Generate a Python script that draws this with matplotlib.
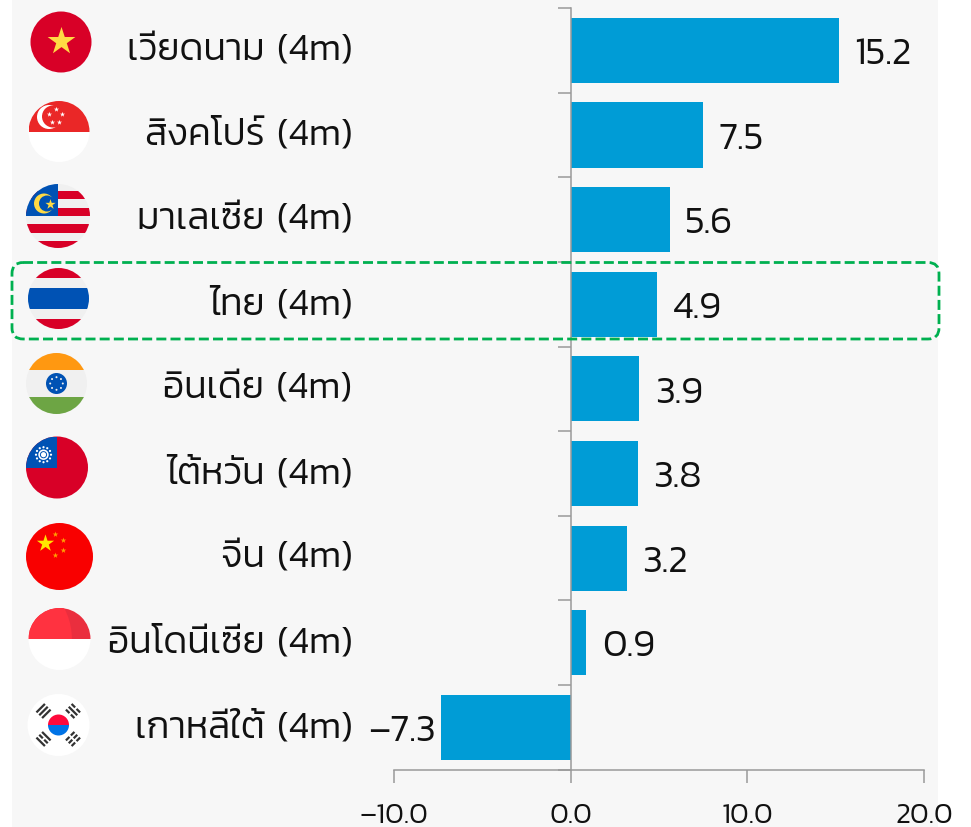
import matplotlib

matplotlib.use("Agg")
import matplotlib.pyplot as plt
import numpy as np
from matplotlib.patches import Circle, FancyBboxPatch, Rectangle, Wedge
from matplotlib.transforms import ScaledTranslation

WIDTH, HEIGHT = 971, 828
FONT = ["Kanit", "Noto Sans Thai", "DejaVu Sans"]
BAR_BLUE = "#009CD6"
AXIS_GREY = "#9A9A9A"
PANEL = "#F7F7F7"
GREEN = "#00B050"
RED = "#D80027"
FLAG_BLUE = "#0052B4"
WHITE = "#F0F0F0"
YELLOW = "#FFDA44"

countries = ["เวียดนาม", "สิงคโปร์", "มาเลเซีย", "ไทย", "อินเดีย", "ไต้หวัน", "จีน", "อินโดนีเซีย", "เกาหลีใต้"]
period = "(4m)"
values = [15.2, 7.5, 5.6, 4.9, 3.9, 3.8, 3.2, 0.9, -7.3]
x_ticks = [-10, 0, 10, 20]
x_tick_labels = ["–10.0", "0.0", "10.0", "20.0"]

plt.rcParams["font.family"] = FONT
plt.rcParams["font.weight"] = 300


def axes_px(fig, left, top, right, bottom, **kwargs):
    return fig.add_axes(
        [left / WIDTH, 1 - bottom / HEIGHT, (right - left) / WIDTH, (bottom - top) / HEIGHT],
        **kwargs,
    )


def make_disc(ax, cx, cy, r, base=None):
    disc = Circle((cx, cy), r, facecolor=base or "none", edgecolor="none")
    ax.add_patch(disc)

    def clip(patch):
        ax.add_patch(patch)
        patch.set_clip_path(disc)
        return patch

    def band(x0, y0, x1, y1, color):
        # offsets are in units of the flag radius
        clip(
            Rectangle(
                (cx + x0 * r, cy + y0 * r),
                (x1 - x0) * r,
                (y1 - y0) * r,
                facecolor=color,
                edgecolor="none",
            )
        )

    return clip, band


def star(ax, x, y, size, color):
    ax.scatter([x], [y], s=size, marker="*", color=color, linewidths=0, zorder=5)


def dot(ax, x, y, r, color):
    ax.add_patch(Circle((x, y), r, facecolor=color, edgecolor="none", zorder=5))


def flag_vietnam(ax, cx, cy, r):
    make_disc(ax, cx, cy, r, RED)
    star(ax, cx, cy - 1, 440, YELLOW)


def flag_singapore(ax, cx, cy, r):
    clip, band = make_disc(ax, cx, cy, r, "#FFFFFF")
    band(-1, -1, 1, 0, "#EA2727")
    dot(ax, cx - 10, cy - 14.5, 12, "#FFFFFF")
    dot(ax, cx - 6, cy - 15, 11, "#EA2727")
    for dx, dy in [(-3, -22.5), (-10, -17.5), (3, -17.5), (-7, -9.5), (0, -9.5)]:
        star(ax, cx + dx, cy + dy, 15, "#FFFFFF")


def flag_malaysia(ax, cx, cy, r):
    clip, band = make_disc(ax, cx, cy, r, WHITE)
    for y0, y1 in [(-0.78, -0.52), (-0.26, 0.0), (0.26, 0.52), (0.78, 1.0)]:
        band(-1, y0, 1, y1, RED)
    band(-1, -1, 0, 0.0, FLAG_BLUE)
    dot(ax, cx - 14, cy - 12.5, 10, YELLOW)
    dot(ax, cx - 11, cy - 12.5, 8, FLAG_BLUE)
    star(ax, cx - 8.5, cy - 12.5, 60, YELLOW)


def flag_thailand(ax, cx, cy, r):
    clip, band = make_disc(ax, cx, cy, r, WHITE)
    band(-1, -1, 1, -0.66, RED)
    band(-1, -0.33, 1, 0.33, FLAG_BLUE)
    band(-1, 0.66, 1, 1, RED)


def flag_india(ax, cx, cy, r):
    clip, band = make_disc(ax, cx, cy, r, WHITE)
    band(-1, -1, 1, -0.43, "#FF9811")
    band(-1, 0.43, 1, 1, "#6DA544")
    dot(ax, cx, cy, 10.5, FLAG_BLUE)
    for angle in np.deg2rad(np.arange(0, 360, 45)):
        dot(ax, cx + 6.3 * np.cos(angle), cy + 6.3 * np.sin(angle), 1.0, WHITE)


def flag_taiwan(ax, cx, cy, r):
    clip, band = make_disc(ax, cx, cy, r, RED)
    band(-1, -1, 0, 0, FLAG_BLUE)
    sx, sy = cx - 13.5, cy - 12.8
    for angle in np.deg2rad(np.arange(0, 360, 30)):
        dot(ax, sx + 7.5 * np.cos(angle), sy + 7.5 * np.sin(angle), 1.1, "#FFFFFF")
    dot(ax, sx, sy, 5.2, "#FFFFFF")
    dot(ax, sx, sy, 3.6, FLAG_BLUE)
    dot(ax, sx, sy, 2.6, "#FFFFFF")


def flag_china(ax, cx, cy, r):
    make_disc(ax, cx, cy, r, "#F90000")
    star(ax, cx - 15, cy - 14, 170, "#FFE600")
    for dx, dy in [(-4.5, -22.5), (3, -17), (3, -7), (-4.5, -1.5)]:
        star(ax, cx + dx, cy + dy, 18, "#FFA000")


def flag_indonesia(ax, cx, cy, r):
    clip, band = make_disc(ax, cx, cy, r, "#FFFFFF")
    band(-1, -1, 1, 0, "#EA2E3E")
    clip(Wedge((cx - 1.725 * r, cy), 2.125 * r, 180, 360, facecolor="#FF3240", edgecolor="none"))


def flag_korea(ax, cx, cy, r):
    make_disc(ax, cx, cy, r, "#FFFFFF")
    ax.add_patch(Wedge((cx, cy), 10.5, 180, 360, facecolor="#FF0A3C", edgecolor="none", zorder=4))
    ax.add_patch(Wedge((cx, cy), 10.5, 0, 180, facecolor="#0073E6", edgecolor="none", zorder=4))
    trigrams = [
        (-15, -14, 45, (False, False, False)),
        (14.5, -14, -45, (True, False, True)),
        (-15, 14, -45, (False, True, False)),
        (14.5, 14, 45, (True, True, True)),
    ]
    for sx, sy, ang, broken in trigrams:
        a = np.deg2rad(ang)
        ux, uy = -np.sin(a), np.cos(a)
        for off, is_broken in zip((-4, 0, 4), broken):
            ox, oy = cx + sx + off * np.cos(a), cy + sy + off * np.sin(a)
            spans = [(-6, -1), (1, 6)] if is_broken else [(-6, 6)]
            for s0, s1 in spans:
                ax.plot(
                    [ox + s0 * ux, ox + s1 * ux],
                    [oy + s0 * uy, oy + s1 * uy],
                    color="#333333",
                    linewidth=1.6,
                    solid_capstyle="butt",
                    zorder=5,
                )


fig = plt.figure(figsize=(WIDTH / 100, HEIGHT / 100), dpi=100, facecolor="white")

panel = axes_px(fig, 12, 0, 938, HEIGHT, zorder=0)
panel.set_facecolor(PANEL)
panel.set_xticks([])
panel.set_yticks([])
for spine in panel.spines.values():
    spine.set_visible(False)

ax = axes_px(fig, 393.7, 9, 924.2, 770.7, zorder=1)
ax.patch.set_visible(False)
y_pos = np.arange(len(values))
ax.barh(y_pos, values, height=0.77, color=BAR_BLUE)
ax.set_xlim(-10, 20)
ax.set_ylim(len(values) - 0.5, -0.5)

ax.spines["top"].set_visible(False)
ax.spines["right"].set_visible(False)
ax.spines["left"].set_position(("data", 0))
ax.spines["left"].set_color(AXIS_GREY)
ax.spines["bottom"].set_color(AXIS_GREY)
ax.spines["left"].set_linewidth(1.1)
ax.spines["bottom"].set_linewidth(1.1)

ax.set_xticks(x_ticks)
ax.set_xticklabels(x_tick_labels, fontsize=21)
ax.tick_params(axis="x", length=9, width=1.1, color=AXIS_GREY, pad=14, labelcolor="#111111")
ax.set_yticks(y_pos)
ax.set_yticklabels([f"{c} \u200a{period}" for c in countries], fontsize=27)
ax.tick_params(axis="y", which="major", length=0, pad=157, labelcolor="#111111")
ax.set_yticks(np.arange(len(values) + 1) - 0.5, minor=True)
ax.tick_params(axis="y", which="minor", length=9.5, width=1.1, color=AXIS_GREY)

# labels sit a little above the bar centres
lift = ScaledTranslation(0, 3 / 72, fig.dpi_scale_trans)
for tick_label in ax.get_yticklabels():
    tick_label.set_transform(tick_label.get_transform() + lift)

for y, value in zip(y_pos, values):
    label = f"{value:.1f}".replace("-", "–")
    ax.annotate(
        label,
        (value, y),
        xytext=(11 if value >= 0 else -4.5, -2.7),
        textcoords="offset points",
        ha="left" if value >= 0 else "right",
        va="center",
        fontsize=27.5,
        color="#111111",
    )

overlay = axes_px(fig, 0, 0, WIDTH, HEIGHT, zorder=2)
overlay.set_xlim(0, WIDTH)
overlay.set_ylim(HEIGHT, 0)
overlay.axis("off")

overlay.add_patch(
    FancyBboxPatch(
        (12, 263.5),
        927,
        76.5,
        boxstyle="round,pad=0,rounding_size=11",
        facecolor="none",
        edgecolor=GREEN,
        linewidth=2,
        linestyle=(0, (3.6, 1.5)),
    )
)

flag_vietnam(overlay, 61, 43, 30.5)
flag_singapore(overlay, 59, 132.5, 30.5)
flag_malaysia(overlay, 58, 217, 32)
flag_thailand(overlay, 58.5, 299.5, 30.5)
flag_india(overlay, 56.5, 384.5, 30.5)
flag_taiwan(overlay, 57, 468.5, 31)
flag_china(overlay, 59.5, 557.5, 33.5)
flag_indonesia(overlay, 59.5, 640, 31)
flag_korea(overlay, 58.5, 726, 31)

fig.savefig("out.png", dpi=100)
